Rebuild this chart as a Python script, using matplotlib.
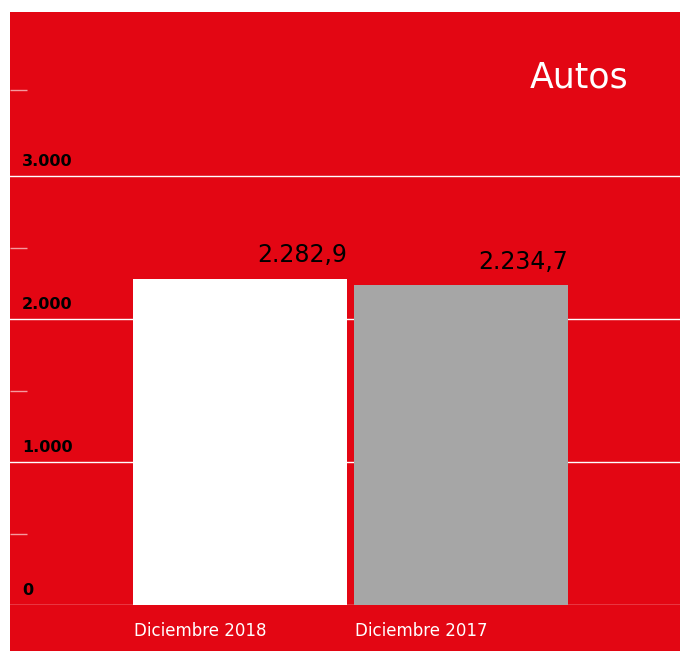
import matplotlib.pyplot as plt
from matplotlib.patches import Rectangle
from matplotlib.transforms import blended_transform_factory

# datos
categorias = ['Diciembre 2018', 'Diciembre 2017']
valores = [2282.9, 2234.7]
etiquetas_valor = ['2.282,9', '2.234,7']
colores = ['#ffffff', '#a6a6a6']
ticks_mayores = [0, 1000, 2000, 3000]
etiquetas_ticks = ['0', '1.000', '2.000', '3.000']
ticks_menores = [500, 1500, 2500, 3600]

rojo = '#e30613'
W, H = 680, 651

fig = plt.figure(figsize=(W / 100, H / 100), dpi=100, facecolor='white')
# fondo rojo (deja un margen blanco arriba y a la izquierda)
fig.patches.append(Rectangle((10 / W, 0), 1 - 10 / W, (H - 12) / H,
                             transform=fig.transFigure, facecolor=rojo,
                             edgecolor='none', zorder=-10))

ax = fig.add_axes([10 / W, (H - 605) / H, (W - 10) / W, (605 - 12) / H])
ax.set_facecolor('none')

ancho = 214 / 221
x = list(range(len(valores)))
ax.bar(x, valores, width=ancho, color=colores, zorder=3)
ax.set_xlim(-230 / 221, 1 + 219 / 221)
ax.set_ylim(0, 593 / 0.143)

# lineas de la cuadricula
for t in ticks_mayores:
    ax.axhline(t, color='white', linewidth=1, zorder=2)

for sp in ax.spines.values():
    sp.set_visible(False)
ax.set_xticks([])
ax.set_yticks(ticks_mayores)
ax.set_yticklabels([])
ax.tick_params(axis='y', which='major', length=0)
ax.set_yticks(ticks_menores, minor=True)
ax.tick_params(axis='y', which='minor', direction='in', length=12.5,
               width=1, color='#f59a9e')

trans = blended_transform_factory(ax.transAxes, ax.transData)
for t, lab in zip(ticks_mayores, etiquetas_ticks):
    ax.annotate(lab, xy=(12 / (W - 10), t), xycoords=trans,
                xytext=(0, 5), textcoords='offset points',
                ha='left', va='bottom', fontsize=11.5, fontweight='bold',
                color='black')

# etiquetas de valor
for i, (v, lab) in enumerate(zip(valores, etiquetas_valor)):
    ax.annotate(lab, xy=(i + ancho / 2, v), xytext=(0, 8),
                textcoords='offset points', ha='right', va='bottom',
                fontsize=17, color='black')

# etiquetas de categoria
for i, cat in enumerate(categorias):
    ax.annotate(cat, xy=(i - ancho / 2, 0), xycoords=('data', 'axes fraction'),
                xytext=(1, -19), textcoords='offset points',
                ha='left', va='center', fontsize=12, color='white')

fig.text(579 / W, 1 - 87 / H, 'Autos', ha='center', va='baseline',
         fontsize=25, color='white')

fig.savefig('out.png', dpi=100, facecolor='white')
